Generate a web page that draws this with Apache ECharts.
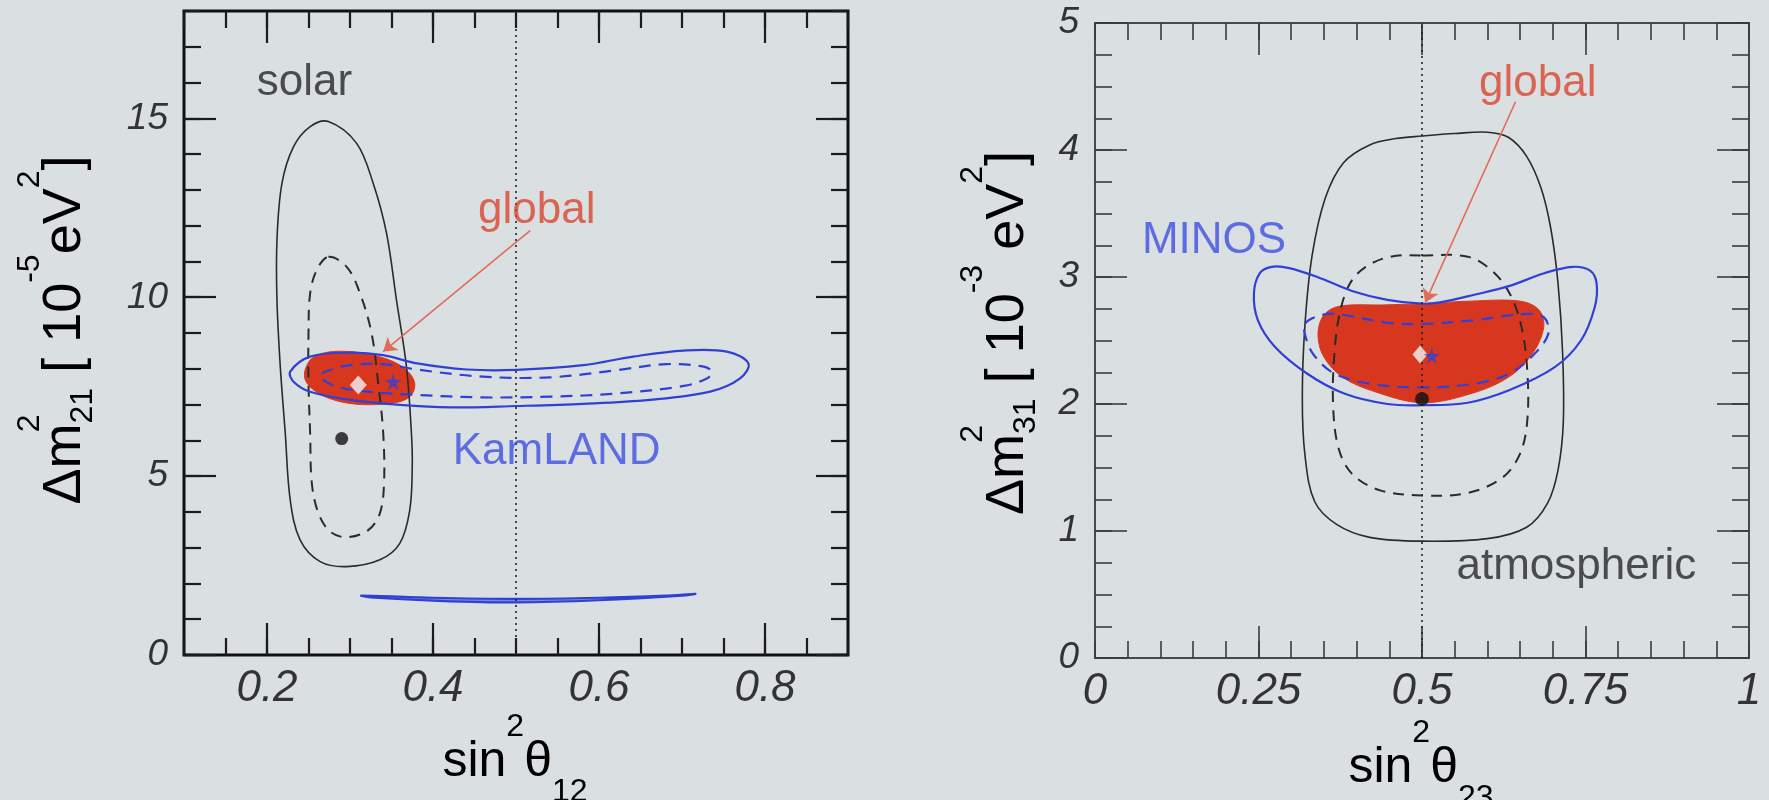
<!DOCTYPE html>
<html>
<head>
<meta charset="utf-8">
<script src="https://cdn.jsdelivr.net/npm/echarts@6/dist/echarts.min.js"></script>
<style>
  html, body { margin: 0; padding: 0; background: #dae0e1; }
  #chart { width: 1769px; height: 800px; }
</style>
</head>
<body>
<div id="chart"></div>
<script>
// ---------- Left panel: sin²θ12 vs Δm²21 [1e-5 eV²] ----------
const xLabels12 = [0.2, 0.4, 0.6, 0.8];
const yLabels21 = [0, 5, 10, 15];

// solar allowed region, outer (solid) and inner (dashed) contours
const solarOuter = [
  [0.274, 14.91], [0.308, 14.30], [0.328, 13.18], [0.344, 11.79], [0.356, 9.92],
  [0.368, 8.06], [0.374, 6.20], [0.375, 5.27], [0.372, 4.05], [0.360, 3.12],
  [0.336, 2.66], [0.296, 2.47], [0.264, 2.61], [0.240, 3.21], [0.228, 4.33],
  [0.222, 6.20], [0.216, 8.06], [0.212, 9.92], [0.212, 11.60], [0.218, 13.18],
  [0.232, 14.21], [0.252, 14.77]
];
const solarInner = [
  [0.274, 11.13], [0.296, 10.85], [0.312, 10.11], [0.326, 8.99], [0.334, 7.59],
  [0.340, 6.20], [0.341, 4.80], [0.336, 3.96], [0.322, 3.49], [0.296, 3.29],
  [0.276, 3.45], [0.262, 3.96], [0.254, 4.80], [0.252, 6.20], [0.250, 7.59],
  [0.250, 8.99], [0.252, 10.11], [0.260, 10.76]
];
// KamLAND allowed regions
const kamlandOuter = [
  [0.228, 7.92], [0.252, 8.34], [0.300, 8.45], [0.340, 8.38], [0.381, 8.15],
  [0.441, 7.98], [0.501, 7.97], [0.581, 8.10], [0.641, 8.34], [0.702, 8.51],
  [0.754, 8.48], [0.780, 8.15], [0.770, 7.73], [0.734, 7.36], [0.661, 7.13],
  [0.581, 7.02], [0.501, 6.96], [0.421, 6.92], [0.360, 6.99], [0.300, 7.13],
  [0.252, 7.36], [0.232, 7.64]
];
const kamlandInner = [
  [0.266, 7.87], [0.300, 8.10], [0.340, 8.13], [0.380, 7.98], [0.460, 7.78],
  [0.541, 7.76], [0.621, 7.96], [0.681, 8.13], [0.726, 8.06], [0.736, 7.92],
  [0.730, 7.73], [0.702, 7.52], [0.621, 7.31], [0.541, 7.22], [0.460, 7.20],
  [0.380, 7.27], [0.320, 7.36], [0.284, 7.50], [0.268, 7.69]
];
const kamlandLow = [
  [0.314, 1.66], [0.400, 1.60], [0.500, 1.57], [0.600, 1.60], [0.680, 1.66],
  [0.716, 1.71], [0.700, 1.66], [0.600, 1.53], [0.500, 1.47], [0.400, 1.52],
  [0.330, 1.60]
];
// global fit region
const global12 = [
  [0.246, 7.97], [0.254, 8.29], [0.272, 8.46], [0.300, 8.48], [0.328, 8.38],
  [0.352, 8.20], [0.370, 7.92], [0.378, 7.59], [0.374, 7.27], [0.360, 7.08],
  [0.332, 7.00], [0.300, 7.03], [0.272, 7.20], [0.254, 7.45], [0.246, 7.70]
];
const solarBest12 = [[0.290, 6.05]];
const globalBest12 = [[0.310, 7.55]];
const kamlandBest12 = [[0.352, 7.64]];
const arrow12 = [[0.517, 11.86], [0.340, 8.48]];
const notes12 = [
  { name: 'solar', value: [0.245, 16.0], color: '#262626' },
  { name: 'global', value: [0.525, 12.4], color: '#d9442e' },
  { name: 'KamLAND', value: [0.549, 5.67], color: '#3d4fe2' }
];

// ---------- Right panel: sin²θ23 vs Δm²31 [1e-3 eV²] ----------
const xLabels23 = [0, 0.25, 0.5, 0.75, 1];
const xTicks23 = [0.25, 0.5, 0.75];
const yLabels31 = [0, 1, 2, 3, 4, 5];

const atmOuter = [
  [0.500, 4.11], [0.550, 4.13], [0.600, 4.14], [0.632, 4.10], [0.660, 3.95],
  [0.682, 3.70], [0.697, 3.38], [0.708, 2.95], [0.715, 2.40], [0.716, 1.85],
  [0.708, 1.48], [0.692, 1.22], [0.660, 1.03], [0.600, 0.94], [0.500, 0.92],
  [0.420, 0.95], [0.370, 1.05], [0.336, 1.23], [0.321, 1.60], [0.317, 2.05],
  [0.321, 2.62], [0.332, 3.17], [0.352, 3.62], [0.380, 3.90], [0.420, 4.04],
  [0.460, 4.09]
];
const atmInner = [
  [0.500, 3.17], [0.570, 3.16], [0.607, 3.05], [0.634, 2.87], [0.652, 2.61],
  [0.661, 2.26], [0.661, 1.87], [0.650, 1.61], [0.623, 1.42], [0.570, 1.30],
  [0.500, 1.28], [0.436, 1.32], [0.393, 1.45], [0.372, 1.66], [0.364, 2.00],
  [0.366, 2.39], [0.374, 2.71], [0.390, 2.95], [0.414, 3.08], [0.452, 3.16]
];
const minosOuter = [
  [0.270, 3.08], [0.297, 3.07], [0.340, 3.00], [0.393, 2.89], [0.447, 2.82],
  [0.500, 2.79], [0.527, 2.80], [0.580, 2.86], [0.634, 2.93], [0.687, 3.03],
  [0.730, 3.08], [0.757, 3.05], [0.767, 2.95], [0.764, 2.76], [0.743, 2.50],
  [0.703, 2.29], [0.634, 2.11], [0.570, 2.01], [0.500, 1.99], [0.447, 2.00],
  [0.382, 2.08], [0.324, 2.24], [0.275, 2.45], [0.249, 2.66], [0.243, 2.87],
  [0.252, 3.03]
];
const minosInner = [
  [0.321, 2.63], [0.340, 2.69], [0.366, 2.71], [0.447, 2.64], [0.500, 2.63],
  [0.580, 2.66], [0.660, 2.71], [0.687, 2.68], [0.693, 2.55], [0.671, 2.39],
  [0.634, 2.24], [0.580, 2.16], [0.500, 2.13], [0.420, 2.16], [0.366, 2.24],
  [0.334, 2.39], [0.322, 2.53]
];
const global23 = [
  [0.500, 2.79], [0.574, 2.81], [0.650, 2.81], [0.679, 2.74], [0.686, 2.60],
  [0.668, 2.39], [0.632, 2.21], [0.574, 2.08], [0.500, 2.01], [0.426, 2.10],
  [0.379, 2.21], [0.350, 2.37], [0.341, 2.55], [0.350, 2.70], [0.374, 2.77],
  [0.440, 2.78]
];
const atmBest23 = [[0.500, 2.04]];
const globalBest23 = [[0.497, 2.39]];
const minosBest23 = [[0.515, 2.38]];
const arrow23 = [[0.643, 4.38], [0.505, 2.80]];
const notes23 = [
  { name: 'global', value: [0.677, 4.52], color: '#d9442e' },
  { name: 'MINOS', value: [0.182, 3.285], color: '#3d4fe2' },
  { name: 'atmospheric', value: [0.736, 0.715], color: '#262626' }
];

// ---------- styling ----------
const FONT = '"Liberation Sans", Arial, Helvetica, sans-serif';
const RED = '#d8371f';
const BLUE = '#3140d4';
const INK = '#2b2b2b';
const STAR = 'path://M50,0 L61,35 L98,35 L68,57 L79,91 L50,70 L21,91 L32,57 L2,35 L39,35 Z';

function fmt(v) { return String(+v.toFixed(2)); }

// long ticks (and the tick labels) of one frame side
function majorAxis(dim, grid, pos, min, max, ticks, labels, tick) {
  return {
    type: 'value', gridIndex: grid, position: pos, min: min, max: max,
    axisLine: { show: false, onZero: false }, splitLine: { show: false },
    axisTick: { show: true, inside: true, length: 32, customValues: ticks,
      lineStyle: { color: tick.color, width: tick.width } },
    axisLabel: { show: !!labels, customValues: labels || ticks, margin: dim === 'x' ? 12 : 16,
      fontFamily: FONT, fontStyle: 'italic', fontSize: dim === 'x' ? 44 : 37,
      color: '#333', formatter: fmt }
  };
}
// short ticks of one frame side
function minorAxis(grid, pos, min, max, interval, tick) {
  return {
    type: 'value', gridIndex: grid, position: pos, min: min, max: max, interval: interval,
    axisLine: { show: false, onZero: false }, splitLine: { show: false }, axisLabel: { show: false },
    axisTick: { show: true, inside: true, length: 17,
      lineStyle: { color: tick.color, width: tick.width } }
  };
}

const tickL = { color: '#1c1c1c', width: 2.2 };
const tickR = { color: '#3a3a3a', width: 1.6 };

const gridL = { left: 184, top: 11, width: 664, height: 644 };
const gridR = { left: 1095, top: 23, width: 654, height: 635 };

// closed contour drawn through the axis scales
function contour(axis, pts, style, z) {
  return {
    type: 'custom', xAxisIndex: axis, yAxisIndex: axis, silent: true, z: z,
    data: pts, encode: { x: 0, y: 1 },
    renderItem: function (params, api) {
      if (params.dataIndex !== 0) return null;
      const points = pts.map(function (p) { return api.coord(p); });
      return { type: 'polygon', shape: { points: points, smooth: 0.35 }, style: style };
    }
  };
}
function marker(axis, pts, symbol, size, color, z) {
  return {
    type: 'scatter', xAxisIndex: axis, yAxisIndex: axis, data: pts, symbol: symbol,
    symbolSize: size, silent: true, z: z, itemStyle: { color: color }
  };
}
function notes(axis, items) {
  return {
    type: 'scatter', xAxisIndex: axis, yAxisIndex: axis, silent: true, z: 20,
    symbolSize: 1, itemStyle: { color: 'transparent' },
    data: items.map(function (n) {
      return { name: n.name, value: n.value,
        label: { show: true, position: 'inside', formatter: '{b}', color: n.color,
          fontFamily: FONT, fontSize: 44 } };
    })
  };
}
function arrow(axis, coords) {
  return {
    type: 'lines', coordinateSystem: 'cartesian2d', xAxisIndex: axis, yAxisIndex: axis,
    silent: true, z: 9, symbol: ['none', 'arrow'], symbolSize: 13,
    lineStyle: { color: '#e26a58', width: 1.6, opacity: 1 },
    data: [{ coords: coords }]
  };
}
function dotted(axis, x, y0, y1) {
  return {
    type: 'line', xAxisIndex: axis, yAxisIndex: axis, silent: true, z: 8,
    symbol: 'none', data: [[x, y0], [x, y1]],
    lineStyle: { color: '#222', width: 1.6, type: [2, 4] }
  };
}

const solidBlack = { fill: 'none', stroke: INK, lineWidth: 1.6 };
const dashBlack = { fill: 'none', stroke: INK, lineWidth: 2, lineDash: [11, 8] };
const solidBlue = { fill: 'none', stroke: BLUE, lineWidth: 2.2 };
const dashBlue = { fill: 'none', stroke: BLUE, lineWidth: 2.2, lineDash: [12, 8] };
const redFill = { fill: RED, stroke: RED, lineWidth: 1 };

// axis titles with super/subscripts; subLift raises the subscript toward the base line
function titleRich(fs, subLift) {
  const base = { fontFamily: FONT, color: '#1f1f1f' };
  return {
    b: Object.assign({ fontSize: fs, lineHeight: 102, verticalAlign: 'middle' }, base),
    sup: Object.assign({ fontSize: 32, verticalAlign: 'top' }, base),
    supz: Object.assign({ fontSize: 32, verticalAlign: 'top', width: 0 }, base),
    sub: Object.assign({ fontSize: 32, verticalAlign: 'bottom', padding: [0, 0, subLift, 0] }, base)
  };
}
function title(text, x, y, rot, fs, subLift) {
  return {
    type: 'text', x: x, y: y, rotation: rot, silent: true, z: 30,
    style: { text: text, rich: titleRich(fs, subLift), align: 'center', verticalAlign: 'middle' }
  };
}

const chart = echarts.init(document.getElementById('chart'), null, { renderer: 'canvas' });
chart.setOption({
  backgroundColor: '#dae0e1',
  animation: false,
  grid: [
    Object.assign({ show: true, borderWidth: 3, borderColor: '#111', backgroundColor: 'transparent' }, gridL),
    Object.assign({}, gridL),
    Object.assign({ show: true, borderWidth: 2, borderColor: '#4a4a4a', backgroundColor: 'transparent' }, gridR),
    Object.assign({}, gridR)
  ],
  xAxis: [
    majorAxis('x', 0, 'bottom', 0.1, 0.9, xLabels12, xLabels12, tickL),
    majorAxis('x', 0, 'top', 0.1, 0.9, xLabels12, null, tickL),
    minorAxis(1, 'bottom', 0.1, 0.9, 0.05, tickL),
    minorAxis(1, 'top', 0.1, 0.9, 0.05, tickL),
    majorAxis('x', 2, 'bottom', 0, 1, xTicks23, xLabels23, tickR),
    majorAxis('x', 2, 'top', 0, 1, xTicks23, null, tickR),
    minorAxis(3, 'bottom', 0, 1, 0.05, tickR),
    minorAxis(3, 'top', 0, 1, 0.05, tickR)
  ],
  yAxis: [
    majorAxis('y', 0, 'left', 0, 18, yLabels21, yLabels21, tickL),
    majorAxis('y', 0, 'right', 0, 18, yLabels21, null, tickL),
    minorAxis(1, 'left', 0, 18, 1, tickL),
    minorAxis(1, 'right', 0, 18, 1, tickL),
    majorAxis('y', 2, 'left', 0, 5, yLabels31, yLabels31, tickR),
    majorAxis('y', 2, 'right', 0, 5, yLabels31, null, tickR),
    minorAxis(3, 'left', 0, 5, 0.25, tickR),
    minorAxis(3, 'right', 0, 5, 0.25, tickR)
  ],
  series: [
    // left panel
    contour(0, global12, redFill, 2),
    contour(0, solarOuter, solidBlack, 4),
    contour(0, solarInner, dashBlack, 4),
    contour(0, kamlandOuter, solidBlue, 5),
    contour(0, kamlandInner, dashBlue, 5),
    contour(0, kamlandLow, { fill: 'rgba(49,64,212,0.55)', stroke: BLUE, lineWidth: 2.2 }, 5),
    dotted(0, 0.5, 0, 18),
    arrow(0, arrow12),
    marker(0, solarBest12, 'circle', 13, '#111', 12),
    marker(0, globalBest12, 'diamond', [17, 19], '#f4f4f4', 12),
    marker(0, kamlandBest12, STAR, 17, BLUE, 12),
    notes(0, notes12),
    // right panel
    contour(4, global23, redFill, 2),
    contour(4, atmOuter, solidBlack, 4),
    contour(4, atmInner, dashBlack, 4),
    contour(4, minosOuter, solidBlue, 5),
    contour(4, minosInner, dashBlue, 5),
    dotted(4, 0.5, 0, 5),
    arrow(4, arrow23),
    marker(4, atmBest23, 'circle', 14, '#111', 12),
    marker(4, globalBest23, 'diamond', [15, 18], '#f4f4f4', 12),
    marker(4, minosBest23, STAR, 16, BLUE, 12),
    notes(4, notes23)
  ],
  graphic: [
    title('{b|sin}{sup|2}{b|θ}{sub|12}', 515, 762, 0, 50, 5),
    title('{b|sin}{sup|2}{b|θ}{sub|23}', 1421, 768, 0, 50, 5),
    title('{b|Δm}{supz|2}{sub|21}{b| [ 10}{sup|-5}{b|eV}{sup|2}{b|]}', 65, 330, Math.PI / 2, 54, 17),
    title('{b|Δm}{supz|2}{sub|31}{b| [ 10}{sup|-3}{b| eV}{sup|2}{b|]}', 1008, 333, Math.PI / 2, 54, 17)
  ]
});
</script>
</body>
</html>
